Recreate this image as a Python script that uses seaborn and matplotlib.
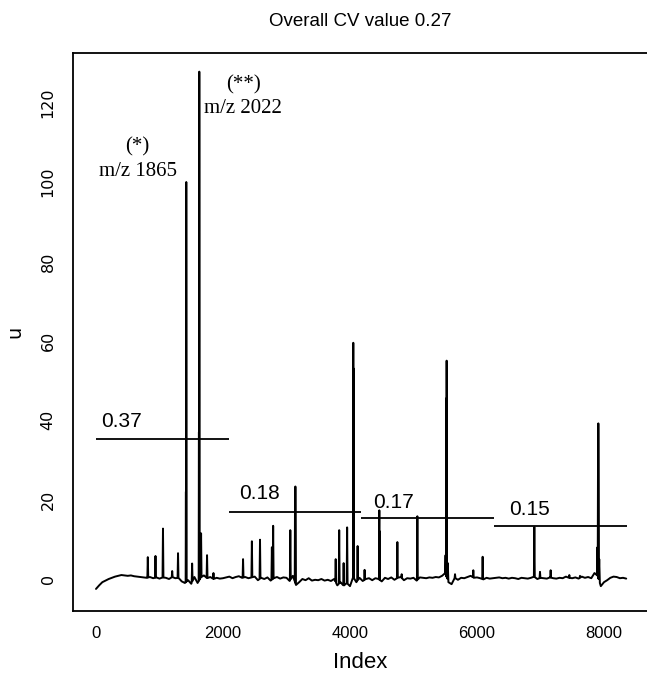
import numpy as np
import pandas as pd
import matplotlib
matplotlib.use("Agg")
import matplotlib.pyplot as plt
import seaborn as sns

# ---------------- data ----------------
title = "Overall CV value 0.27"
x_label = "Index"
y_label = "u"

# baseline of the spectrum, one value every `baseline_step` index units
baseline_step = 50
baseline_u = [
    -2.5, -1.6, -0.8, -0.4, 0.0, 0.3, 0.6, 0.8, 1.0, 0.9,
    0.8, 0.9, 0.7, 0.6, 0.5, 0.4, 0.3, 0.5, 0.2, 0.4,
    0.1, 0.4, 0.3, 0.0, 0.5, 0.2, 0.3, -0.6, -1.0, -0.3,
    -1.2, 0.5, -1.0, 0.4, 0.9, 0.2, 0.5, 0.0, 0.3, 0.1,
    0.2, 0.4, 0.6, 0.2, 0.5, 0.7, 0.3, 0.5, 0.2, 0.4,
    0.6, -0.3, 0.3, 0.0, 0.4, -0.4, 0.2, 0.5, 0.1, 0.4,
    0.3, -0.5, 0.8, -1.5, -0.8, 0.0, -0.3, 0.2, -0.4, -0.2,
    -0.3, 0.0, -0.4, -0.2, -0.5, 0.0, -1.6, -0.8, -1.7, -1.0,
    -1.8, 0.5, -0.8, 0.3, -0.5, 0.0, 0.2, -0.3, 0.2, 0.0,
    -0.6, 0.3, 0.0, 0.4, -0.2, 0.3, 0.5, -0.3, 0.2, 0.1,
    0.3, -0.4, 0.4, 0.3, 0.2, 0.4, 0.3, 0.5, 0.4, 0.8,
    1.5, -0.8, -1.3, 0.3, -0.2, 0.3, 0.2, 0.5, 0.8, 0.3,
    0.4, 0.2, -0.1, 0.3, 0.1, 0.2, 0.3, 0.4, 0.2, 0.3,
    0.1, 0.3, 0.2, 0.0, 0.3, 0.2, 0.1, 0.3, 0.6, 0.0,
    0.3, 0.2, 0.1, 0.4, 0.2, 0.1, 0.3, 0.2, 0.6, 0.3,
    0.2, 0.4, 0.1, 0.6, 0.3, 0.5, 0.2, 1.5, 0.8, -1.8,
    -0.8, -0.3, 0.3, 0.6, 0.5, 0.2, 0.3, 0.1,
]

# spectral peaks: position (Index), apex height (u), half width at the foot
peak_index = [816, 937, 1055, 1200, 1292, 1416, 1422, 1514, 1621, 1627,
              1655, 1749, 1850, 2316, 2455, 2583, 2770, 2790, 3060, 3134,
              3140, 3775, 3830, 3900, 3955, 4052, 4058, 4120, 4230, 4462,
              4468, 4746, 4814, 5061, 5505, 5516, 5522, 5540, 5654, 5942,
              6089, 6903, 6992, 7160, 7454, 7622, 7898, 7906, 7911, 7925]
peak_u = [5.5, 5.8, 12.7, 2.0, 6.5, 22.0, 100.0, 3.9, 37.0, 127.8,
          11.5, 6.0, 1.5, 5.0, 9.5, 9.9, 8.0, 13.4, 12.3, 19.0,
          23.3, 5.0, 12.3, 4.0, 13.0, 59.5, 53.0, 8.3, 2.3, 17.3,
          12.0, 9.3, 1.2, 15.8, 6.0, 45.5, 55.0, 4.0, 1.2, 2.2,
          5.6, 13.1, 1.8, 2.2, 1.0, 0.8, 8.0, 31.0, 39.2, 5.0]
peak_halfwidth = [7, 7, 7, 7, 7, 4, 4, 7, 4, 4,
                  7, 7, 7, 7, 7, 7, 7, 7, 7, 4,
                  4, 7, 7, 7, 7, 4, 4, 7, 7, 5,
                  5, 7, 7, 7, 10, 5, 5, 10, 7, 7,
                  7, 7, 7, 7, 7, 7, 10, 5, 5, 10]

# CV windows
seg_start = [0, 2090, 4181, 6271]
seg_end = [2090, 4181, 6271, 8362]
seg_u = [35.3, 16.8, 15.4, 13.3]
seg_cv = ["0.37", "0.18", "0.17", "0.15"]
seg_label_x = [400, 2570, 4680, 6825]
seg_label_u = [39.6, 21.6, 19.3, 17.5]

# peak annotations
annot_text = ["(*)", "m/z 1865", "(**)", "m/z 2022"]
annot_x = [655, 655, 2320, 2320]
annot_u = [108.9, 102.6, 124.6, 118.5]

x_ticks = [0, 2000, 4000, 6000, 8000]
y_ticks = [0, 20, 40, 60, 80, 100, 120]
x_limits = (-362, 8693)
y_limits = (-8.06, 132.5)

# ---------------- build the spectrum polyline ----------------
base_x = np.arange(len(baseline_u)) * baseline_step
base_y = np.array(baseline_u, dtype=float)
px = np.array(peak_index, dtype=float)
pw = np.array(peak_halfwidth, dtype=float)

keep = np.ones(len(base_x), dtype=bool)
for c, w in zip(px, pw):
    keep &= ~((base_x >= c - w - 2) & (base_x <= c + w + 2))
xs = list(base_x[keep])
ys = list(base_y[keep])
for c, h, w in zip(px, peak_u, pw):
    xs += [c - w, c, c + w]
    ys += [np.interp(c - w, base_x, base_y), h, np.interp(c + w, base_x, base_y)]
order = np.argsort(np.array(xs), kind="stable")
spec = pd.DataFrame({"Index": np.array(xs)[order], "u": np.array(ys)[order]})

# ---------------- plot ----------------
sns.set_style("white")
plt.rcParams["font.family"] = ["Liberation Sans", "DejaVu Sans"]

fig = plt.figure(figsize=(6.47, 6.73), dpi=100)
ax = fig.add_axes([73 / 647, 62 / 673, 575 / 647, 558 / 673])

sns.lineplot(data=spec, x="Index", y="u", estimator=None, sort=False,
             color="black", linewidth=1.4, ax=ax)

ax.hlines(seg_u, seg_start, seg_end, colors="black", linewidth=1.3)
for t, x, y in zip(seg_cv, seg_label_x, seg_label_u):
    ax.text(x, y, t, ha="center", va="center", fontsize=15,
            family=["Liberation Sans", "DejaVu Sans"], color="black")
for t, x, y in zip(annot_text, annot_x, annot_u):
    ax.text(x, y, t, ha="center", va="center", fontsize=15,
            family=["Liberation Serif", "DejaVu Serif"], color="black")

ax.set_xlim(*x_limits)
ax.set_ylim(*y_limits)
ax.set_xticks(x_ticks)
ax.set_yticks(y_ticks)
ax.set_xticklabels([str(v) for v in x_ticks], fontsize=12)
ax.set_yticklabels([str(v) for v in y_ticks], rotation=90, va="center",
                   fontsize=11.5, family=["DejaVu Sans"])
ax.tick_params(axis="both", direction="out", length=6.5, width=1.1,
               color="black", labelcolor="black")
ax.tick_params(axis="x", pad=4.5)
ax.tick_params(axis="y", pad=6)

for s in ax.spines.values():
    s.set_visible(True)
    s.set_color("black")
    s.set_linewidth(1.3)

ax.set_xlabel(x_label, fontsize=16, color="black")
ax.xaxis.set_label_coords(0.5, (611 - 663) / 558)
ax.xaxis.label.set_va("center")
ax.set_ylabel(y_label, fontsize=14, color="black", family=["DejaVu Sans"])
ax.yaxis.set_label_coords((15 - 73) / 575, 0.5)
ax.yaxis.label.set_va("center")

ax.set_title(title, fontsize=13.5, color="black", y=1 + (53 - 30) / 558, va="center")
ax.grid(False)

fig.savefig("out.png", dpi=100, facecolor="white")
